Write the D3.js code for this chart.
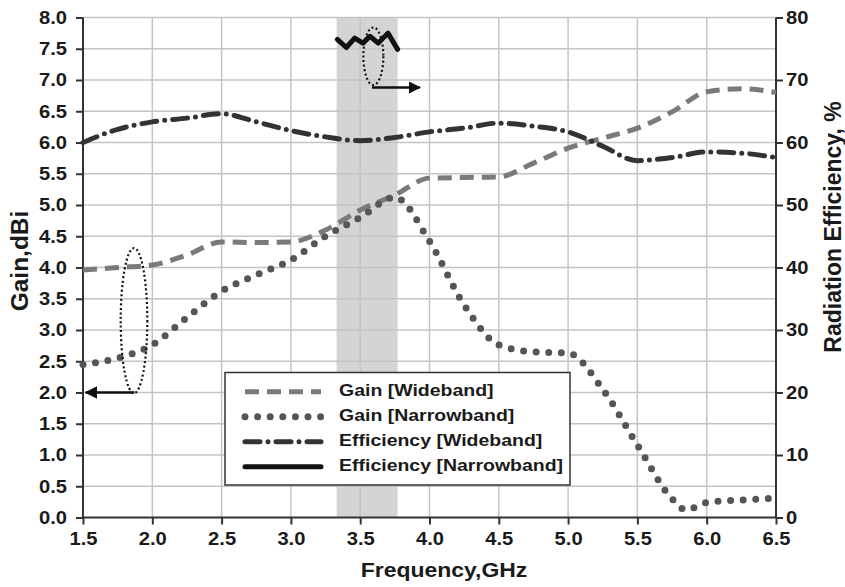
<!DOCTYPE html>
<html><head><meta charset="utf-8">
<script src="https://cdn.jsdelivr.net/npm/d3@7"></script>
<style>body{margin:0;background:#fff}svg{display:block}text{font-family:"Liberation Sans",Arial,sans-serif;font-weight:bold;fill:#1a1a1a}</style>
</head><body><svg id="c" width="845" height="587"></svg>
<script>
const freqW = [1.5,1.75,2.0,2.25,2.5,2.75,3.0,3.25,3.5,3.75,4.0,4.25,4.5,4.75,5.0,5.25,5.5,5.75,6.0,6.25,6.5];
const gainWide = [3.96,4.0,4.04,4.2,4.41,4.40,4.41,4.6,4.92,5.16,5.43,5.44,5.45,5.67,5.91,6.07,6.23,6.49,6.81,6.86,6.80];
const effWide = [60.0,62.1,63.3,63.9,64.6,63.3,61.9,60.9,60.3,60.8,61.7,62.3,63.1,62.6,61.7,59.4,57.1,57.6,58.5,58.3,57.6];
const freqN = [1.5,1.75,2.0,2.25,2.5,2.75,3.0,3.25,3.5,3.75,4.0,4.25,4.5,4.75,5.0,5.25,5.5,5.75,5.85,6.0,6.25,6.5];
const gainNarrow = [2.45,2.55,2.76,3.2,3.62,3.88,4.12,4.5,4.8,5.12,4.42,3.4,2.76,2.65,2.63,2.05,1.16,0.3,0.12,0.24,0.28,0.31];
const freqEN = [3.335,3.40,3.46,3.52,3.57,3.63,3.70,3.77];
const effNarrow = [76.5,75.2,76.7,75.9,77.0,75.9,77.5,74.9];
const band = [3.33,3.77];
const xTicks = [1.5,2.0,2.5,3.0,3.5,4.0,4.5,5.0,5.5,6.0,6.5];
const yLTicks = d3.range(0,8.01,0.5);
const yRTicks = d3.range(0,81,10);
const legendLabels = ["Gain [Wideband]","Gain [Narrowband]","Efficiency [Wideband]","Efficiency [Narrowband]"];

const SX = 1.12;
const svg = d3.select("#c");
const x = d3.scaleLinear([1.5,6.5],[83,776]);
const yL = d3.scaleLinear([0,8],[517.5,17.5]);
const yR = d3.scaleLinear([0,80],[517.5,17.5]);

function stretch(sel){
  sel.each(function(){
    const t = d3.select(this);
    const tx = +t.attr("x") || 0;
    t.attr("x",0).attr("transform",`translate(${tx},0) scale(${SX},1)`);
  });
}

// band
svg.append("rect").attr("x",x(band[0])).attr("y",yL(8)).attr("width",x(band[1])-x(band[0])).attr("height",yL(0)-yL(8)).attr("fill","#d4d4d4");
// grid
svg.append("g").selectAll("line").data(yLTicks.filter(d=>d>0)).join("line")
  .attr("x1",x(1.5)).attr("x2",x(6.5)).attr("y1",d=>yL(d)).attr("y2",d=>yL(d)).attr("stroke","#c4c4c4").attr("stroke-width",1.5);
svg.append("g").selectAll("line").data(xTicks.slice(1,-1)).join("line")
  .attr("x1",d=>x(d)).attr("x2",d=>x(d)).attr("y1",yL(0)).attr("y2",yL(8)).attr("stroke","#c4c4c4").attr("stroke-width",1.5);

// axes
const ax = svg.append("g").attr("transform",`translate(0,${yL(0)})`).call(d3.axisBottom(x).tickValues(xTicks).tickFormat(d3.format(".1f")).tickSize(7).tickPadding(8));
const al = svg.append("g").attr("transform",`translate(${x(1.5)},0)`).call(d3.axisLeft(yL).tickValues(yLTicks).tickFormat(d3.format(".1f")).tickSize(7).tickPadding(9));
const ar = svg.append("g").attr("transform",`translate(${x(6.5)},0)`).call(d3.axisRight(yR).tickValues(yRTicks).tickSize(7).tickPadding(3));
[ax,al,ar].forEach(g=>{g.selectAll("path,line").attr("stroke","#333").attr("stroke-width",2);
  g.selectAll("text").attr("font-size",18).attr("font-family","Liberation Sans, Arial").attr("font-weight","bold").attr("fill","#1a1a1a");
  stretch(g.selectAll("text"));});
ax.select(".domain").attr("d",`M${x(1.5)},0H${x(6.5)}`);
al.select(".domain").attr("d",`M0,${yL(0)}V${yL(8)}`);
ar.select(".domain").attr("d",`M0,${yL(0)}V${yL(8)}`);

// titles
svg.append("text").attr("transform",`translate(444,577) scale(${SX},1)`).attr("text-anchor","middle").attr("font-size",20.5).text("Frequency,GHz");
svg.append("text").attr("transform","translate(28,261) rotate(-90)").attr("text-anchor","middle").attr("font-size",24.5).text("Gain,dBi");
svg.append("text").attr("transform","translate(835,227) rotate(-90)").attr("text-anchor","middle").attr("dominant-baseline","middle").attr("font-size",23).text("Radiation Efficiency, %");

// series
const styles = [
  {stroke:"#7a7a7a", w:5, dash:"14,8", cap:"butt"},
  {stroke:"#555", w:7, dash:"0,12.6", cap:"round"},
  {stroke:"#333", w:5, dash:"15,8,0,8", cap:"round"},
  {stroke:"#111", w:5, dash:null, cap:"round"}
];
function drawLine(xs, ys, yScale, st, curve){
  const data = xs.map((f,i)=>[f,ys[i]]);
  svg.append("path").datum(data)
    .attr("d", d3.line().x(d=>x(d[0])).y(d=>yScale(d[1])).curve(curve))
    .attr("fill","none").attr("stroke",st.stroke).attr("stroke-width",st.w)
    .attr("stroke-dasharray",st.dash).attr("stroke-linecap",st.cap).attr("stroke-linejoin","round");
}
drawLine(freqW, gainWide, yL, styles[0], d3.curveMonotoneX);
drawLine(freqN, gainNarrow, yL, styles[1], d3.curveMonotoneX);
drawLine(freqW, effWide, yR, styles[2], d3.curveMonotoneX);
drawLine(freqEN, effNarrow, yR, styles[3], d3.curveLinear);

// annotations
const defs = svg.append("defs");
defs.append("marker").attr("id","ah").attr("viewBox","0 0 10 10").attr("refX",9).attr("refY",5)
  .attr("markerWidth",5).attr("markerHeight",5).attr("orient","auto-start-reverse")
  .append("path").attr("d","M0,0L10,5L0,10Z").attr("fill","#111");
svg.append("ellipse").attr("cx",x(1.868)).attr("cy",(yL(4.31)+yL(1.99))/2).attr("rx",x(1.868)-x(1.772)).attr("ry",(yL(1.99)-yL(4.31))/2)
  .attr("fill","none").attr("stroke","#111").attr("stroke-width",2.2).attr("stroke-dasharray","2,2.5");
svg.append("line").attr("x1",x(1.87)).attr("x2",x(1.52)).attr("y1",yL(2.0)).attr("y2",yL(2.0))
  .attr("stroke","#111").attr("stroke-width",2.5).attr("marker-end","url(#ah)");
svg.append("ellipse").attr("cx",x(3.595)).attr("cy",(yR(78.4)+yR(69.2))/2).attr("rx",x(3.595)-x(3.523)).attr("ry",(yR(69.2)-yR(78.4))/2)
  .attr("fill","none").attr("stroke","#111").attr("stroke-width",2.2).attr("stroke-dasharray","2,2.5");
svg.append("line").attr("x1",x(3.585)).attr("x2",x(3.93)).attr("y1",yR(68.8)).attr("y2",yR(68.8))
  .attr("stroke","#111").attr("stroke-width",2.5).attr("marker-end","url(#ah)");

// legend
const lg = svg.append("g");
lg.append("rect").attr("x",225).attr("y",372.5).attr("width",345).attr("height",112.5).attr("fill","#fff").attr("stroke","#333").attr("stroke-width",1.5);
legendLabels.forEach((t,i)=>{
  const yy = 391.7 + i*25;
  const st = styles[i];
  lg.append("line").attr("x1",245).attr("x2",321).attr("y1",yy).attr("y2",yy)
    .attr("stroke",st.stroke).attr("stroke-width",st.w).attr("stroke-dasharray",st.dash).attr("stroke-linecap",st.cap);
  lg.append("text").attr("transform",`translate(339,${yy}) scale(${SX},1)`).attr("dominant-baseline","middle").attr("font-size",17.4).text(t);
});
</script></body></html>
